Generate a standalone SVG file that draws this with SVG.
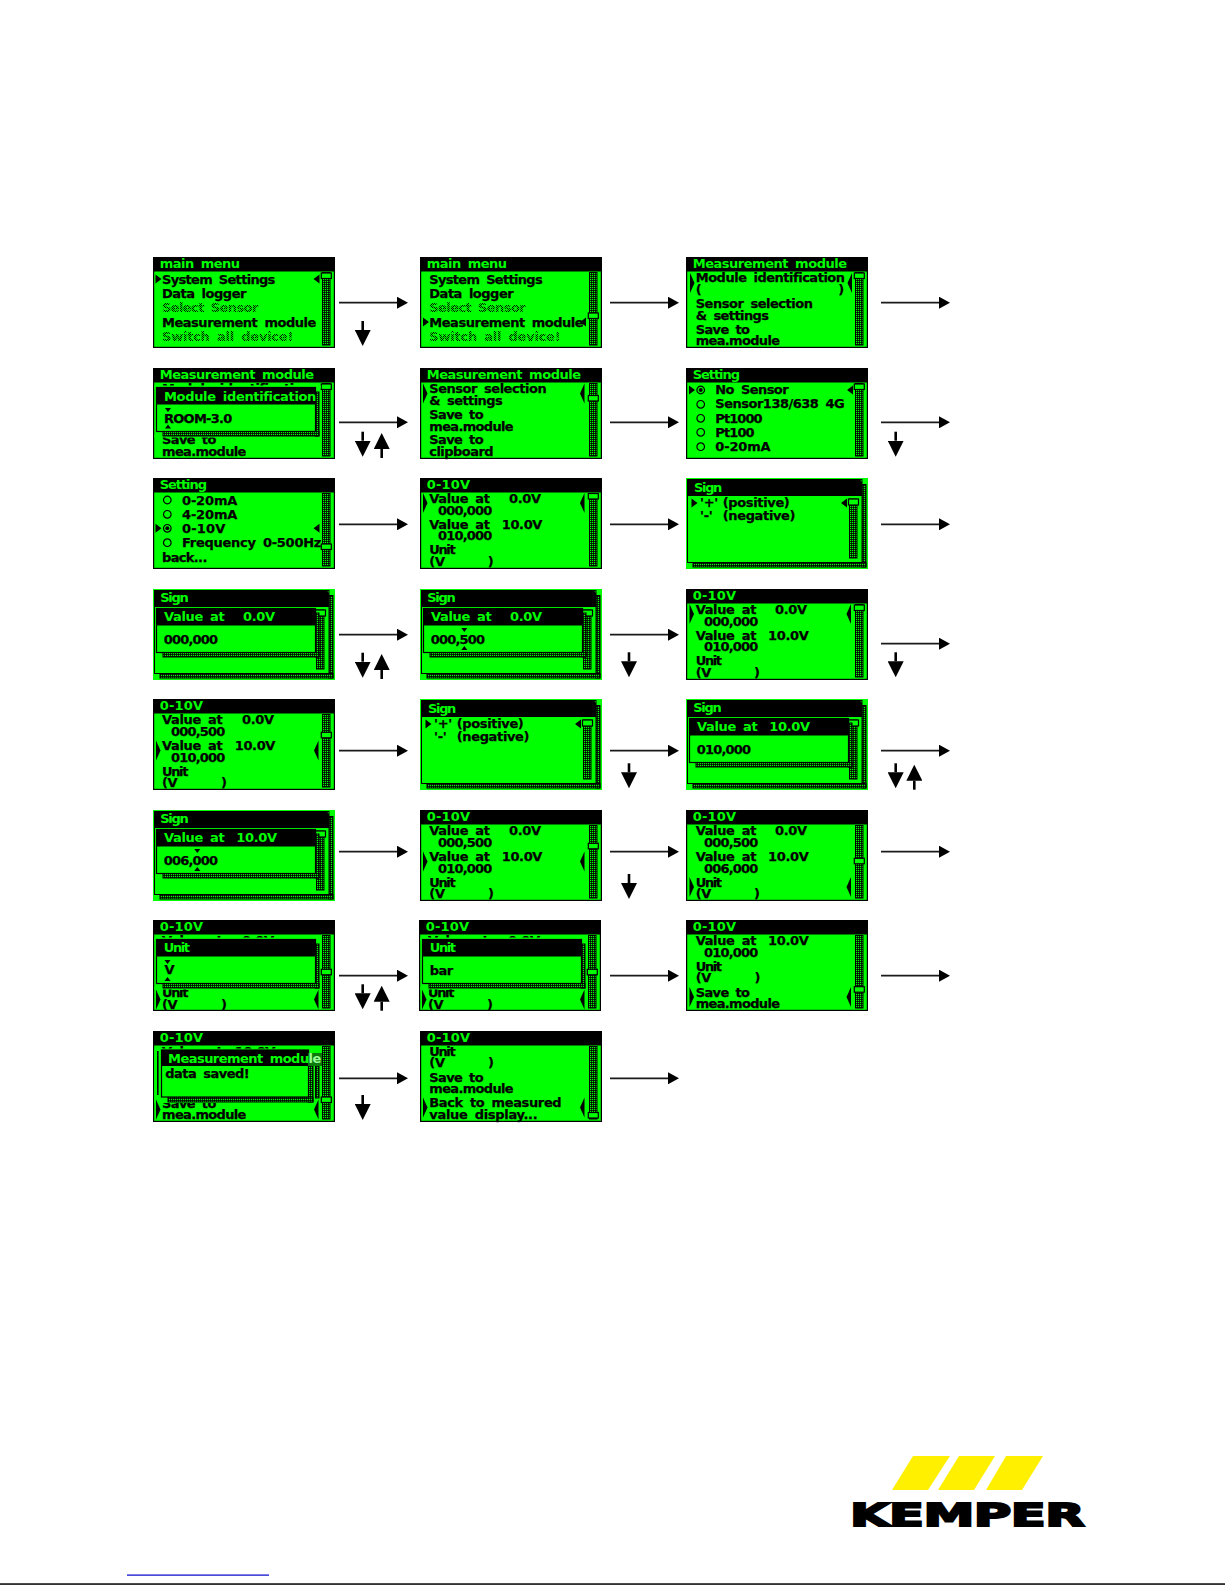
<svg xmlns="http://www.w3.org/2000/svg" width="1225" height="1585" viewBox="0 0 1225 1585">
<style>
text{font-family:"DejaVu Sans","Liberation Sans",sans-serif;font-weight:700;font-size:13px;word-spacing:3px;letter-spacing:-.35px}
.k{fill:#000;stroke:#000;stroke-width:.25}.g{fill:#0f0}.d{fill:url(#dim)}
.bk{fill:#000}.gr{fill:#0f0}
.tr{fill:url(#speck);stroke:#000;stroke-width:1}
.th{fill:#0f0;stroke:#000;stroke-width:1.2}
.ra{fill:none;stroke:#000;stroke-width:1.2}
.h{fill:none;stroke:#1a1a1a;stroke-width:1.7;marker-end:url(#ah)}
.v{fill:none;stroke:#000;stroke-width:2.6;marker-end:url(#av)}
</style>
<defs>
<pattern id="speck" patternUnits="userSpaceOnUse" width="2" height="2"><rect width="2" height="2" fill="#000"/><rect width="1.2" height="1.2" fill="#0f0"/></pattern>
<pattern id="dim" patternUnits="userSpaceOnUse" width="2" height="2"><rect width="2" height="2" fill="#0f0"/><rect width="1" height="1" fill="#000"/><rect x="1" y="1" width="1" height="1" fill="#000"/></pattern>
<marker id="ah" markerUnits="userSpaceOnUse" viewBox="0 0 11 12" refX="0" refY="6" markerWidth="11" markerHeight="12" orient="auto"><polygon points="0,0 11,6 0,12" fill="#000"/></marker>
<marker id="av" markerUnits="userSpaceOnUse" viewBox="0 0 16 16" refX="0" refY="8" markerWidth="16" markerHeight="16" orient="auto"><polygon points="0,0 16,8 0,16" fill="#000"/></marker>
<g id="screen"><rect class="bk" width="182" height="91"/><rect class="gr" x="1.2" y="14.5" width="179.6" height="75.3"/><rect class="tr" x="169.5" y="15.5" width="7.5" height="72.5"/></g>
<g id="sign"><rect class="gr" width="182" height="91"/><rect class="tr" x="176" y="6.5" width="4" height="82.5"/><rect class="tr" x="7" y="84.5" width="173" height="4.5"/><rect class="gr" x="1.5" y="1.5" width="174.5" height="83" stroke="#000" stroke-width="1"/><polygon class="bk" points="1.5,1.5 174,1.5 176,4 176,18 1.5,18"/><rect class="tr" x="163.5" y="21" width="7.5" height="59"/><rect class="th" x="162.5" y="21" width="10" height="6"/></g>
<g id="mask"><rect class="gr" x="1.2" y="17.5" width="167" height="3"/><rect class="gr" x="1.2" y="67" width="166" height="2.5"/></g>
<g id="dlg"><rect class="tr" x="162.5" y="24" width="3.5" height="44"/><rect class="tr" x="10" y="63.5" width="156" height="4.5"/><rect class="gr" x="3.5" y="19.5" width="159" height="44" stroke="#000" stroke-width="1.2"/><rect class="bk" x="3.5" y="19.5" width="159" height="17"/></g>
<polygon id="pr" class="bk" points="0,-4.5 6,0 0,4.5"/>
<polygon id="pl" class="bk" points="6,-4.5 0,0 6,4.5"/>
<polygon id="prt" class="bk" points="0,-10 4.5,0 0,10"/>
<polygon id="plt" class="bk" points="4.5,-10 0,0 4.5,10"/>
<polygon id="td" class="bk" points="0,0 6,0 3,4"/>
<polygon id="tu" class="bk" points="3,0 6,4 0,4"/>
<circle id="ra" class="ra" r="3.8"/>
<g id="rs"><circle class="ra" r="3.8"/><circle class="bk" r="2"/></g>
<rect id="thumb" class="th" x="168.3" width="10" height="5.5"/>
</defs>
<rect width="1225" height="1585" fill="#fff"/>

<g id="connectors">
<line class="h" x1="339" y1="302.7" x2="397" y2="302.7"/><line class="h" x1="610" y1="302.7" x2="668" y2="302.7"/><line class="h" x1="881" y1="302.7" x2="939" y2="302.7"/>
<line class="h" x1="339" y1="422.3" x2="397" y2="422.3"/><line class="h" x1="610" y1="422.3" x2="668" y2="422.3"/><line class="h" x1="881" y1="422.3" x2="939" y2="422.3"/>
<line class="h" x1="339" y1="524.3" x2="397" y2="524.3"/><line class="h" x1="610" y1="524.3" x2="668" y2="524.3"/><line class="h" x1="881" y1="524.3" x2="939" y2="524.3"/>
<line class="h" x1="339" y1="634.7" x2="397" y2="634.7"/><line class="h" x1="610" y1="634.7" x2="668" y2="634.7"/><line class="h" x1="881" y1="643.7" x2="939" y2="643.7"/>
<line class="h" x1="339" y1="750.7" x2="397" y2="750.7"/><line class="h" x1="610" y1="750.7" x2="668" y2="750.7"/><line class="h" x1="881" y1="750.7" x2="939" y2="750.7"/>
<line class="h" x1="339" y1="851.7" x2="397" y2="851.7"/><line class="h" x1="610" y1="851.7" x2="668" y2="851.7"/><line class="h" x1="881" y1="851.7" x2="939" y2="851.7"/>
<line class="h" x1="339" y1="975.7" x2="397" y2="975.7"/><line class="h" x1="610" y1="975.7" x2="668" y2="975.7"/><line class="h" x1="881" y1="975.7" x2="939" y2="975.7"/>
<line class="h" x1="339" y1="1078.3" x2="397" y2="1078.3"/><line class="h" x1="610" y1="1078.3" x2="668" y2="1078.3"/>
<line class="v" x1="362.7" y1="321" x2="362.7" y2="330"/>
<line class="v" x1="362.7" y1="431.7" x2="362.7" y2="440.7"/><line class="v" x1="381.7" y1="458" x2="381.7" y2="449"/><line class="v" x1="895.7" y1="431.7" x2="895.7" y2="440.7"/>
<line class="v" x1="362.7" y1="652.7" x2="362.7" y2="661.7"/><line class="v" x1="381.7" y1="679" x2="381.7" y2="670"/><line class="v" x1="629" y1="652.3" x2="629" y2="661.3"/><line class="v" x1="895.7" y1="652.3" x2="895.7" y2="661.3"/>
<line class="v" x1="629" y1="763.3" x2="629" y2="772.3"/><line class="v" x1="895.7" y1="763.3" x2="895.7" y2="772.3"/><line class="v" x1="914.3" y1="789.7" x2="914.3" y2="780.7"/>
<line class="v" x1="629" y1="874" x2="629" y2="883"/>
<line class="v" x1="362.7" y1="984.3" x2="362.7" y2="993.3"/><line class="v" x1="381.7" y1="1010.7" x2="381.7" y2="1001.7"/>
<line class="v" x1="362.7" y1="1095" x2="362.7" y2="1104"/>
</g>

<g id="r1c1" transform="translate(153,257)"><use href="#screen"/><text class="g" x="6.7" y="11.3" textLength="80">main menu</text>
<text class="k" x="9" y="27.3" textLength="113">System Settings</text><text class="k" x="9" y="41" textLength="84">Data logger</text><text class="d" x="9" y="55" textLength="96">Select Sensor</text><text class="k" x="9" y="70" textLength="154">Measurement module</text><text class="d" x="9" y="84" textLength="131">Switch all device!</text>
<use href="#thumb" y="16"/><use href="#pr" x="2.5" y="22"/><use href="#pl" x="160.5" y="22"/></g>

<g id="r1c2" transform="translate(420,257)"><use href="#screen"/><text class="g" x="6.7" y="11.3" textLength="80">main menu</text>
<text class="k" x="9.3" y="27.3" textLength="113">System Settings</text><text class="k" x="9.3" y="41" textLength="84">Data logger</text><text class="d" x="9.3" y="55" textLength="96">Select Sensor</text><text class="k" x="9.3" y="70" textLength="154">Measurement module</text><text class="d" x="9.3" y="84" textLength="131">Switch all device!</text>
<use href="#thumb" y="56"/><use href="#pr" x="3" y="65"/><use href="#pl" x="160" y="65"/></g>

<g id="r1c3" transform="translate(686,257)"><use href="#screen"/><text class="g" x="6.7" y="11.3" textLength="154">Measurement module</text>
<text class="k" x="9.7" y="25.3" textLength="149">Module identification</text><text class="k" y="37"><tspan x="9.7">( </tspan><tspan x="152.3">)</tspan></text><text class="k" x="9.7" y="51.3" textLength="117">Sensor selection</text><text class="k" x="9.7" y="63" textLength="73">&amp; settings</text><text class="k" x="9.7" y="77" textLength="54">Save to</text><text class="k" x="9.7" y="88" textLength="84">mea.module</text>
<use href="#thumb" y="16"/><use href="#prt" x="4" y="26"/><use href="#plt" x="161.5" y="26"/></g>

<g id="r2c1" transform="translate(153,368)"><use href="#screen"/><text class="g" x="6.7" y="11.3" textLength="154">Measurement module</text>
<text class="k" x="9" y="25.3" textLength="149">Module identification</text><text class="k" x="9" y="76" textLength="54">Save to</text><text class="k" x="9" y="87.7" textLength="84">mea.module</text>
<use href="#thumb" y="16"/><use href="#mask"/><use href="#dlg"/><text class="g" x="11" y="33" textLength="152">Module identification</text><text class="k" x="11" y="55" textLength="68">ROOM-3.0</text><use href="#td" x="12" y="40"/><use href="#tu" x="12" y="56.5"/></g>

<g id="r2c2" transform="translate(420,368)"><use href="#screen"/><text class="g" x="6.7" y="11.3" textLength="154">Measurement module</text>
<text class="k" x="9.3" y="25.3" textLength="117">Sensor selection</text><text class="k" x="9.3" y="37" textLength="73">&amp; settings</text><text class="k" x="9.3" y="51" textLength="54">Save to</text><text class="k" x="9.3" y="62.7" textLength="84">mea.module</text><text class="k" x="9.3" y="76.3" textLength="54">Save to</text><text class="k" x="9.3" y="87.7" textLength="64">clipboard</text>
<use href="#thumb" y="27.5"/><use href="#prt" x="3" y="25.5"/><use href="#plt" x="160" y="25.5"/></g>

<g id="r2c3" transform="translate(686,368)"><use href="#screen"/><text class="g" x="6.7" y="11.3" textLength="47">Setting</text>
<use href="#rs" x="14.7" y="22"/><use href="#ra" x="14.7" y="36.3"/><use href="#ra" x="14.7" y="50.3"/><use href="#ra" x="14.7" y="64.3"/><use href="#ra" x="14.7" y="78.7"/>
<text class="k" x="29.3" y="26.3" textLength="73">No Sensor</text><text class="k" x="29.3" y="40.3" textLength="129">Sensor138/638 4G</text><text class="k" x="29.3" y="54.7" textLength="47">Pt1000</text><text class="k" x="29.3" y="68.7" textLength="39">Pt100</text><text class="k" x="29.3" y="83" textLength="55">0-20mA</text>
<use href="#thumb" y="16"/><use href="#pr" x="3" y="22"/><use href="#pl" x="161" y="22"/></g>

<g id="r3c1" transform="translate(153,478)"><use href="#screen"/><text class="g" x="6.7" y="11.3" textLength="47">Setting</text>
<use href="#ra" x="14.3" y="22"/><use href="#ra" x="14.3" y="36.3"/><use href="#rs" x="14.3" y="50.3"/><use href="#ra" x="14.3" y="64.7"/>
<text class="k" x="29" y="27" textLength="55">0-20mA</text><text class="k" x="29" y="41" textLength="55">4-20mA</text><text class="k" x="29" y="55.3" textLength="43">0-10V</text><text class="k" x="29" y="69.3" textLength="139">Frequency 0-500Hz</text><text class="k" x="9" y="83.7" textLength="45">back...</text>
<use href="#thumb" y="66"/><use href="#pr" x="2.5" y="50.3"/><use href="#pl" x="160.5" y="50.3"/></g>

<g id="r3c2" transform="translate(420,478)"><use href="#screen"/><text class="g" x="6.7" y="11.3" textLength="43">0-10V</text>
<text class="k" y="25.3"><tspan x="9.3">Value at </tspan><tspan x="89">0.0V</tspan></text><text class="k" x="18" y="37" textLength="54">000,000</text><text class="k" y="51"><tspan x="9.3">Value at </tspan><tspan x="81.7">10.0V</tspan></text><text class="k" x="18" y="62" textLength="54">010,000</text><text class="k" x="9.3" y="76" textLength="26">Unit</text><text class="k" y="87.7"><tspan x="9.3">(V </tspan><tspan x="67.7">)</tspan></text>
<use href="#thumb" y="15.5"/><use href="#prt" x="3" y="25"/><use href="#plt" x="160" y="25"/></g>

<g id="r3c3" transform="translate(686,478)"><use href="#sign"/><text class="g" x="8" y="13.7" textLength="28">Sign</text>
<text class="k" y="29.3"><tspan x="14">'+' </tspan><tspan x="36.7">(positive)</tspan></text><text class="k" y="42"><tspan x="14">'-' </tspan><tspan x="36.7">(negative)</tspan></text>
<use href="#pr" x="5.5" y="25"/><use href="#pl" x="155" y="25"/></g>

<g id="r4c1" transform="translate(153,589)"><use href="#sign"/><text class="g" x="7.3" y="13.3" textLength="28">Sign</text><use href="#dlg"/>
<text class="g" y="32.3"><tspan x="11">Value at </tspan><tspan x="90">0.0V</tspan></text><text class="k" x="10.7" y="54.7" textLength="54">000,000</text></g>

<g id="r4c2" transform="translate(420,589)"><use href="#sign"/><text class="g" x="7.3" y="13.3" textLength="28">Sign</text><use href="#dlg"/>
<text class="g" y="32.3"><tspan x="11">Value at </tspan><tspan x="90">0.0V</tspan></text><text class="k" x="10.7" y="54.7" textLength="54">000,500</text><use href="#td" x="41.3" y="39"/><use href="#tu" x="41.3" y="57"/></g>

<g id="r4c3" transform="translate(686,589)"><use href="#screen"/><text class="g" x="6.7" y="11.3" textLength="43">0-10V</text>
<text class="k" y="25.3"><tspan x="9.7">Value at </tspan><tspan x="89">0.0V</tspan></text><text class="k" x="18" y="37" textLength="54">000,000</text><text class="k" y="51"><tspan x="9.7">Value at </tspan><tspan x="82">10.0V</tspan></text><text class="k" x="18" y="62" textLength="54">010,000</text><text class="k" x="9.7" y="76" textLength="26">Unit</text><text class="k" y="87.7"><tspan x="9.7">(V </tspan><tspan x="68">)</tspan></text>
<use href="#thumb" y="16"/><use href="#prt" x="3.5" y="25"/><use href="#plt" x="160.5" y="25"/></g>

<g id="r5c1" transform="translate(153,699)"><use href="#screen"/><text class="g" x="6.7" y="11.3" textLength="43">0-10V</text>
<text class="k" y="25"><tspan x="9">Value at </tspan><tspan x="89">0.0V</tspan></text><text class="k" x="18" y="36.7" textLength="54">000,500</text><text class="k" y="51"><tspan x="9">Value at </tspan><tspan x="81.7">10.0V</tspan></text><text class="k" x="18" y="62.7" textLength="54">010,000</text><text class="k" x="9" y="76.7" textLength="26">Unit</text><text class="k" y="88"><tspan x="9">(V </tspan><tspan x="68">)</tspan></text>
<use href="#thumb" y="33.3"/><use href="#prt" x="3" y="51.5"/><use href="#plt" x="161" y="51.5"/></g>

<g id="r5c2" transform="translate(420,699)"><use href="#sign"/><text class="g" x="8" y="13.7" textLength="28">Sign</text>
<text class="k" y="29.3"><tspan x="14">'+' </tspan><tspan x="36.7">(positive)</tspan></text><text class="k" y="42"><tspan x="14">'-' </tspan><tspan x="36.7">(negative)</tspan></text>
<use href="#pr" x="5.5" y="25"/><use href="#pl" x="155" y="25"/></g>

<g id="r5c3" transform="translate(686,699)"><use href="#sign"/><text class="g" x="7.3" y="13.3" textLength="28">Sign</text><use href="#dlg"/>
<text class="g" y="32.3"><tspan x="11">Value at </tspan><tspan x="83.3">10.0V</tspan></text><text class="k" x="10.7" y="54.7" textLength="54">010,000</text></g>

<g id="r6c1" transform="translate(153,810)"><use href="#sign"/><text class="g" x="7.3" y="13.3" textLength="28">Sign</text><use href="#dlg"/>
<text class="g" y="32.3"><tspan x="11">Value at </tspan><tspan x="83.3">10.0V</tspan></text><text class="k" x="10.7" y="54.7" textLength="54">006,000</text><use href="#td" x="41.3" y="39"/><use href="#tu" x="41.3" y="57"/></g>

<g id="r6c2" transform="translate(420,810)"><use href="#screen"/><text class="g" x="6.7" y="11.3" textLength="43">0-10V</text>
<text class="k" y="25"><tspan x="9.3">Value at </tspan><tspan x="89">0.0V</tspan></text><text class="k" x="18" y="36.7" textLength="54">000,500</text><text class="k" y="51"><tspan x="9.3">Value at </tspan><tspan x="81.7">10.0V</tspan></text><text class="k" x="18" y="62.7" textLength="54">010,000</text><text class="k" x="9.3" y="76.7" textLength="26">Unit</text><text class="k" y="88"><tspan x="9.3">(V </tspan><tspan x="68">)</tspan></text>
<use href="#thumb" y="33.3"/><use href="#prt" x="3" y="51.5"/><use href="#plt" x="160" y="51.5"/></g>

<g id="r6c3" transform="translate(686,810)"><use href="#screen"/><text class="g" x="6.7" y="11.3" textLength="43">0-10V</text>
<text class="k" y="25"><tspan x="9.7">Value at </tspan><tspan x="89">0.0V</tspan></text><text class="k" x="18" y="36.7" textLength="54">000,500</text><text class="k" y="51"><tspan x="9.7">Value at </tspan><tspan x="82">10.0V</tspan></text><text class="k" x="18" y="62.7" textLength="54">006,000</text><text class="k" x="9.7" y="76.7" textLength="26">Unit</text><text class="k" y="88"><tspan x="9.7">(V </tspan><tspan x="68">)</tspan></text>
<use href="#thumb" y="48.3"/><use href="#prt" x="3.5" y="77"/><use href="#plt" x="160.5" y="77"/></g>

<g id="r7c1" transform="translate(153,920)"><use href="#screen"/><text class="g" x="6.7" y="11.3" textLength="43">0-10V</text>
<text class="k" y="25"><tspan x="9">Value at </tspan><tspan x="89">0.0V</tspan></text><text class="k" x="9" y="77" textLength="26">Unit</text><text class="k" y="88.7"><tspan x="9">(V </tspan><tspan x="68">)</tspan></text>
<use href="#thumb" y="49.3"/><use href="#mask"/><use href="#dlg"/><text class="g" x="10.7" y="32.3" textLength="26">Unit</text><text class="k" x="11.5" y="54" textLength="8.5">V</text><use href="#td" x="11.5" y="40"/><use href="#tu" x="11.5" y="57"/>
<use href="#prt" x="3" y="79.5"/><use href="#plt" x="161" y="79.5"/></g>

<g id="r7c2" transform="translate(419,920)"><use href="#screen"/><text class="g" x="6.7" y="11.3" textLength="43">0-10V</text>
<text class="k" y="25"><tspan x="9">Value at </tspan><tspan x="89">0.0V</tspan></text><text class="k" x="9" y="77" textLength="26">Unit</text><text class="k" y="88.7"><tspan x="9">(V </tspan><tspan x="68">)</tspan></text>
<use href="#thumb" y="49.3"/><use href="#mask"/><use href="#dlg"/><text class="g" x="10.7" y="32.3" textLength="26">Unit</text><text class="k" x="10.7" y="55" textLength="23">bar</text>
<use href="#prt" x="3" y="79.5"/><use href="#plt" x="161" y="79.5"/></g>

<g id="r7c3" transform="translate(686,920)"><use href="#screen"/><text class="g" x="6.7" y="11.3" textLength="43">0-10V</text>
<text class="k" y="25"><tspan x="9.7">Value at </tspan><tspan x="82">10.0V</tspan></text><text class="k" x="18" y="36.7" textLength="54">010,000</text><text class="k" x="9.7" y="51" textLength="26">Unit</text><text class="k" y="62.3"><tspan x="9.7">(V </tspan><tspan x="68.6">)</tspan></text><text class="k" x="9.7" y="76.7" textLength="54">Save to</text><text class="k" x="9.7" y="88" textLength="84">mea.module</text>
<use href="#thumb" y="66.7"/><use href="#prt" x="3.5" y="77"/><use href="#plt" x="160.5" y="77"/></g>

<g id="r8c1" transform="translate(153,1031)"><use href="#screen"/><text class="g" x="6.7" y="11.3" textLength="43">0-10V</text>
<text class="k" y="25"><tspan x="9">Value at </tspan><tspan x="81.7">10.0V</tspan></text><text class="k" x="9" y="76.5" textLength="54">Save to</text><text class="k" x="9" y="87.5" textLength="84">mea.module</text>
<rect class="gr" x="1.2" y="17.5" width="167" height="54.5"/><rect class="bk" x="4" y="20" width="1.6" height="44"/>
<rect class="tr" x="162.5" y="32" width="3.5" height="35"/><rect class="tr" x="155" y="24" width="5" height="47"/><rect class="tr" x="15" y="66" width="145" height="5"/>
<rect class="gr" x="8.5" y="19" width="147" height="47" stroke="#000" stroke-width="1.2"/><rect class="bk" x="8.5" y="19" width="147" height="16"/>
<rect x="155" y="22" width="14" height="13" fill="#0a7a0a"/>
<text class="g" x="15" y="31.7" textLength="153">Measurement modu<tspan fill="#9f9">le</tspan></text><text class="k" x="12.3" y="47.3" textLength="84">data saved!</text>
<use href="#thumb" y="66"/><use href="#prt" x="3" y="78.5"/><use href="#plt" x="161" y="78.5"/></g>

<g id="r8c2" transform="translate(420,1031)"><use href="#screen"/><text class="g" x="6.7" y="11.3" textLength="43">0-10V</text>
<text class="k" x="9.3" y="24.7" textLength="26">Unit</text><text class="k" y="36.3"><tspan x="9.3">(V </tspan><tspan x="68">)</tspan></text><text class="k" x="9.3" y="50.7" textLength="54">Save to</text><text class="k" x="9.3" y="62.3" textLength="84">mea.module</text><text class="k" x="9.3" y="76.3" textLength="132">Back to measured</text><text class="k" x="9.3" y="88" textLength="108">value display...</text>
<use href="#thumb" y="81.5"/><use href="#prt" x="3" y="76.5"/><use href="#plt" x="160" y="76.5"/></g>

<g id="logo">
<polygon fill="#fff000" points="913,1456 950,1456 928,1490 892,1490"/>
<polygon fill="#fff000" points="959,1456 995,1456 974,1490 938,1490"/>
<polygon fill="#fff000" points="1006,1456 1043,1456 1022,1490 986,1490"/>
<text x="850" y="1526" textLength="234" lengthAdjust="spacingAndGlyphs" style="font-size:32px;stroke:#000;stroke-width:2">KEMPER</text>
</g>
<rect x="127" y="1574.5" width="142" height="1.2" fill="#00c"/>
<rect x="0" y="1583.3" width="1225" height="1.5" fill="#000"/>
</svg>
